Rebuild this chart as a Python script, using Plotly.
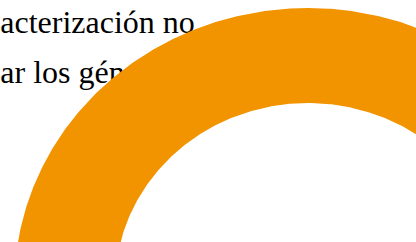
import numpy as np
import plotly.graph_objects as go

# ---- data ----
slice_labels = ["Segmento"]
slice_values = [100]
slice_colors = ["#F29400"]
text_lines = ["acterización no", "ar los gén"]

# ---- geometry / layout constants (pixels of the 416x242 view) ----
W, H = 416, 242
CX_PX, CY_PX = 308, 285        # donut centre in pixels
R_PX = 277                     # outer radius (vertical) in pixels
X_STRETCH = 1.06               # horizontal stretch of the ring
HOLE = 0.657                   # inner radius / outer radius
FONT_SIZE = 32
LINE_PX = [25.3, 74.7]         # vertical centre of the text lines (px from top)
TEXT_X_PX = 0.3

sx = R_PX * X_STRETCH
sy = R_PX
x_range = [(0 - CX_PX) / sx, (W - CX_PX) / sx]
y_range = [(CY_PX - H) / sy, CY_PX / sy]

fig = go.Figure()

# text lines (drawn first, so the ring sits above them)
fig.add_trace(go.Scatter(
    x=[(TEXT_X_PX - CX_PX) / sx] * len(text_lines),
    y=[(CY_PX - p) / sy for p in LINE_PX],
    text=text_lines,
    mode="text",
    textposition="middle right",
    textfont=dict(family="Liberation Serif", size=FONT_SIZE, color="#000000"),
    cliponaxis=False,
    hoverinfo="skip",
    showlegend=False,
))

# donut slices
total = float(sum(slice_values))
start = 90.0
for lab, val, col in zip(slice_labels, slice_values, slice_colors):
    sweep = 360.0 * val / total
    th = np.radians(np.linspace(start, start - sweep, 721))
    xo, yo = np.cos(th), np.sin(th)
    xi, yi = HOLE * np.cos(th[::-1]), HOLE * np.sin(th[::-1])
    fig.add_trace(go.Scatter(
        x=np.concatenate([xo, xi, xo[:1]]),
        y=np.concatenate([yo, yi, yo[:1]]),
        mode="lines",
        fill="toself",
        fillcolor=col,
        line=dict(width=0, color=col),
        name=lab,
        hoverinfo="skip",
        showlegend=False,
    ))
    start -= sweep

fig.update_layout(
    width=W, height=H,
    margin=dict(l=0, r=0, t=0, b=0),
    paper_bgcolor="white",
    plot_bgcolor="white",
    showlegend=False,
    hovermode=False,
    xaxis=dict(range=x_range, visible=False, fixedrange=True),
    yaxis=dict(range=y_range, visible=False, fixedrange=True),
)

fig.write_html(
    "out.html",
    config={"displayModeBar": False, "staticPlot": True},
    post_script="document.body.style.margin='0';document.body.style.overflow='hidden';",
)
